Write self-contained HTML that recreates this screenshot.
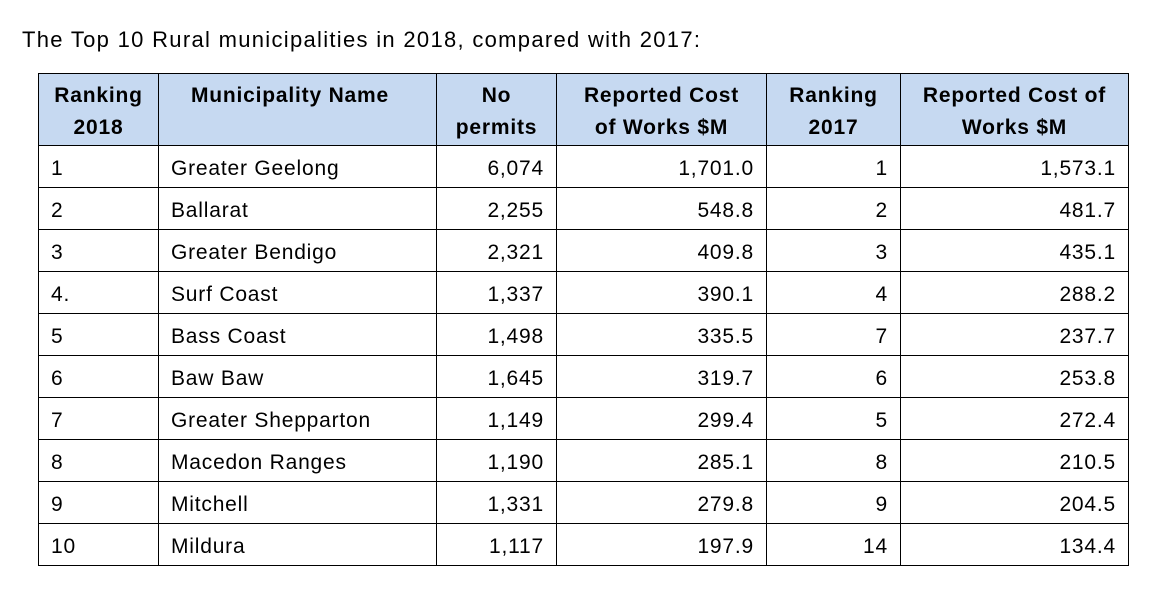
<!DOCTYPE html>
<html><head><meta charset="utf-8"><style>
body{margin:0;width:1176px;height:603px;background:#fff;font-family:"Liberation Sans",sans-serif;color:#000;position:relative;overflow:hidden}
#title{position:absolute;left:22px;top:27px;font-size:22px;letter-spacing:1.3px;white-space:nowrap}
table{position:absolute;left:38px;top:73px;border-collapse:collapse;table-layout:fixed;font-size:21px;letter-spacing:0.8px}
td,th{border:1.5px solid #000;padding:0 12px;height:41px;white-space:nowrap}
td{padding-top:5px;box-sizing:border-box}
th{background:#c6d9f1;height:72px;font-weight:bold;text-align:center;line-height:32px;vertical-align:top;padding-top:6px;padding-bottom:0;box-sizing:border-box}
td.r{text-align:right}
td.l{text-align:left}
tr{height:42px}
</style></head><body>
<div id="title">The Top 10 Rural municipalities in 2018, compared with 2017:</div>
<table>
<colgroup><col style="width:120px"><col style="width:278px"><col style="width:120px"><col style="width:210px"><col style="width:134px"><col style="width:228px"></colgroup>
<thead><tr>
<th>Ranking<br>2018</th>
<th style="text-align:left;padding-left:32px">Municipality Name</th>
<th style="text-align:center">No<br>permits</th>
<th style="text-align:center">Reported Cost<br>of Works $M</th>
<th>Ranking<br>2017</th>
<th>Reported Cost of<br>Works $M</th>
</tr></thead>
<tbody id="tb"></tbody>
</table>
<script>
const ranks2018=["1","2","3","4.","5","6","7","8","9","10"];
const names=["Greater Geelong","Ballarat","Greater Bendigo","Surf Coast","Bass Coast","Baw Baw","Greater Shepparton","Macedon Ranges","Mitchell","Mildura"];
const permits=["6,074","2,255","2,321","1,337","1,498","1,645","1,149","1,190","1,331","1,117"];
const cost2018=["1,701.0","548.8","409.8","390.1","335.5","319.7","299.4","285.1","279.8","197.9"];
const ranks2017=["1","2","3","4","7","6","5","8","9","14"];
const cost2017=["1,573.1","481.7","435.1","288.2","237.7","253.8","272.4","210.5","204.5","134.4"];
const tb=document.getElementById('tb');
const cols=[[ranks2018,'l','rank-2018'],[names,'l','municipality'],[permits,'r','permits'],[cost2018,'r','cost-2018'],[ranks2017,'r','rank-2017'],[cost2017,'r','cost-2017']];
for(let i=0;i<names.length;i++){
 const tr=document.createElement('tr');
 
 
 cols.forEach(c=>{
  const td=document.createElement('td');
  td.className=c[1];
  td.textContent=c[0][i];
  
  
  tr.appendChild(td);
 });
 tb.appendChild(tr);
}
</script>
</body></html>
